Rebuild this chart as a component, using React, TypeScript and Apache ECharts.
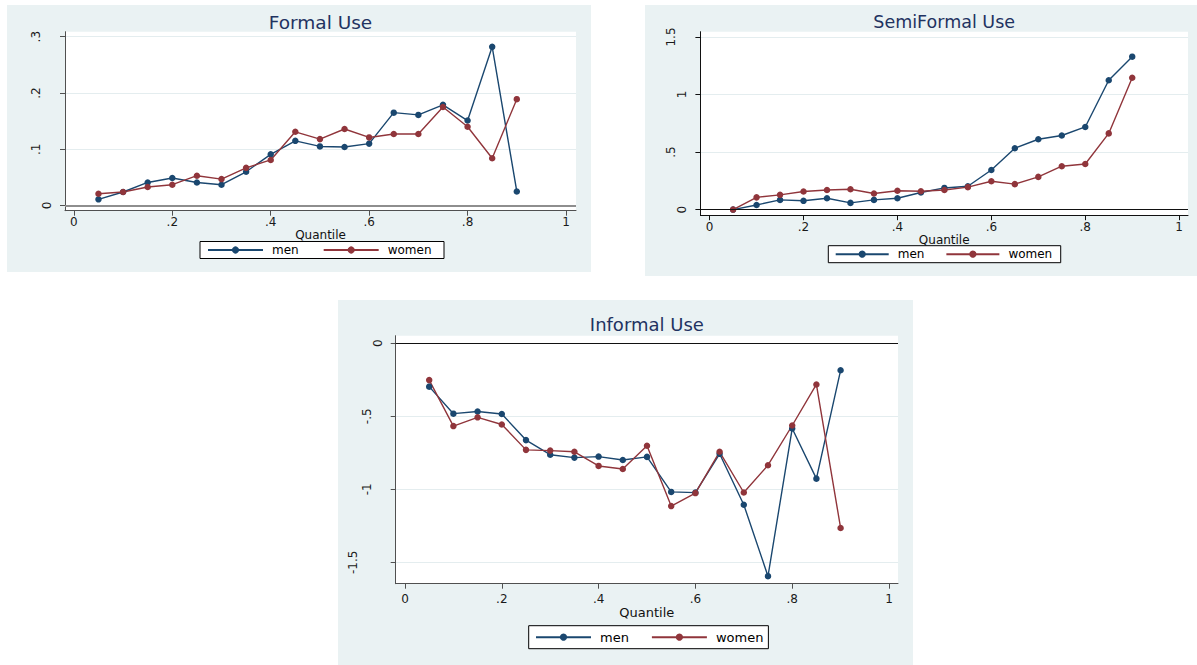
import React, { useEffect, useRef } from "react";
import * as echarts from "echarts";

// ---------- data ----------
const quantiles = [0.05, 0.1, 0.15, 0.2, 0.25, 0.3, 0.35, 0.4, 0.45, 0.5, 0.55, 0.6, 0.65, 0.7, 0.75, 0.8, 0.85, 0.9];

const formalMen = [0.011, 0.024, 0.041, 0.049, 0.041, 0.037, 0.060, 0.091, 0.115, 0.105, 0.104, 0.110, 0.165, 0.161, 0.179, 0.151, 0.282, 0.025];
const formalWomen = [0.021, 0.024, 0.033, 0.037, 0.053, 0.047, 0.067, 0.081, 0.131, 0.118, 0.136, 0.121, 0.127, 0.127, 0.175, 0.140, 0.084, 0.189];

const semiMen = [0.0, 0.040, 0.084, 0.076, 0.098, 0.058, 0.084, 0.098, 0.148, 0.188, 0.203, 0.344, 0.533, 0.611, 0.644, 0.718, 1.124, 1.329];
const semiWomen = [0.0, 0.106, 0.128, 0.157, 0.170, 0.177, 0.140, 0.164, 0.159, 0.170, 0.195, 0.246, 0.221, 0.284, 0.377, 0.396, 0.662, 1.146];

const informalMen = [-0.297, -0.482, -0.467, -0.484, -0.663, -0.763, -0.783, -0.776, -0.799, -0.778, -1.018, -1.023, -0.757, -1.106, -1.595, -0.584, -0.927, -0.185];
const informalWomen = [-0.252, -0.567, -0.507, -0.556, -0.730, -0.735, -0.743, -0.840, -0.861, -0.702, -1.115, -1.026, -0.743, -1.022, -0.835, -0.563, -0.282, -1.265];

const xTicks = [0, 0.2, 0.4, 0.6, 0.8, 1];
const formalTicks = [0, 0.1, 0.2, 0.3];
const semiTicks = [0, 0.5, 1, 1.5];
const informalTicks = [-1.5, -1, -0.5, 0];

const seriesNames = ["men", "women"];
const panelTitles = ["Formal Use", "SemiFormal Use", "Informal Use"];
const xTitle = "Quantile";

// ---------- style ----------
const MEN = "#1A476F";
const WOMEN = "#90353B";
const BG = "#EAF2F3";
const GRIDLINE = "#E4EDEF";
const TITLE = "#1F3361";
const FONT = "DejaVu Sans";

function fmt(v: number): string {
  const s = String(Math.round(v * 1000) / 1000);
  return s.replace(/^(-?)0\./, "$1.");
}

const panels = [
  {
    title: panelTitles[0], men: formalMen, women: formalWomen, yTicks: formalTicks,
    bg: { x: 7, y: 5, w: 584, h: 267 },
    grid: { left: 65, top: 31.7, width: 511, height: 179 },
    xRange: [-0.018, 1.0203], yRange: [-0.0092, 0.3089],
    titleY: 22.5, titleSize: 18.5,
    axisColor: "#505050", zeroColor: "#8E8E8E", zeroWidth: 2,
    legend: { left: 200, top: 241.5, padding: [2.5, 12.5, 2.5, 7], itemGap: 24, itemWidth: 55, fontSize: 12 },
    xLabelMargin: 5, nameGap: 15, nameSize: 12,
  },
  {
    title: panelTitles[1], men: semiMen, women: semiWomen, yTicks: semiTicks,
    bg: { x: 645, y: 5, w: 552, h: 271 },
    grid: { left: 700.4, top: 31.7, width: 487.6, height: 183.5 },
    xRange: [-0.0196, 1.0188], yRange: [-0.049, 1.546],
    titleY: 22.3, titleSize: 17.5,
    axisColor: "#111111", zeroColor: "#111111", zeroWidth: 1,
    legend: { left: 828.3, top: 245.7, padding: [2.5, 8.5, 2.5, 6.4], itemGap: 21, itemWidth: 53, fontSize: 12 },
    xLabelMargin: 6, nameGap: 14.5, nameSize: 12,
  },
  {
    title: panelTitles[2], men: informalMen, women: informalWomen, yTicks: informalTicks,
    bg: { x: 338, y: 300, w: 575, h: 365 },
    grid: { left: 395.7, top: 335.7, width: 502.3, height: 248 },
    xRange: [-0.0192, 1.0186], yRange: [-1.6466, 0.052],
    titleY: 324, titleSize: 18,
    axisColor: "#505050", zeroColor: "#111111", zeroWidth: 1,
    legend: { left: 528.7, top: 625.7, padding: [5, 5, 5, 6.3], itemGap: 22, itemWidth: 55, fontSize: 13 },
    xLabelMargin: 9, nameGap: 20.5, nameSize: 13,
  },
];

function buildOption() {
  const grid: any[] = [];
  const xAxis: any[] = [];
  const yAxis: any[] = [];
  const series: any[] = [];
  const legend: any[] = [];
  const graphic: any[] = [];

  panels.forEach((p, i) => {
    graphic.push({
      type: "rect", z: -10, silent: true,
      shape: { x: p.bg.x, y: p.bg.y, width: p.bg.w, height: p.bg.h },
      style: { fill: BG },
    });
    graphic.push({
      type: "text", z: 10, silent: true,
      x: p.grid.left + p.grid.width / 2, y: p.titleY,
      style: {
        text: p.title, fontFamily: FONT, fontSize: p.titleSize, fill: TITLE,
        align: "center", verticalAlign: "middle",
      },
    });

    grid.push({
      left: p.grid.left, top: p.grid.top, width: p.grid.width, height: p.grid.height,
      show: true, backgroundColor: "#ffffff", borderWidth: 0,
      outerBoundsMode: "none", containLabel: false,
    });

    xAxis.push({
      type: "value", gridIndex: i, min: p.xRange[0], max: p.xRange[1],
      position: "bottom",
      name: xTitle, nameLocation: "middle", nameGap: p.nameGap,
      nameTextStyle: { fontFamily: FONT, fontSize: p.nameSize, color: "#111" },
      axisLine: { show: true, onZero: false, lineStyle: { color: p.axisColor, width: 1 } },
      axisTick: { show: true, length: 5, inside: false, customValues: xTicks, lineStyle: { color: p.axisColor, width: 1 } },
      axisLabel: {
        show: true, margin: p.xLabelMargin, customValues: xTicks,
        fontFamily: FONT, fontSize: 12, color: "#1a1a1a",
        formatter: (v: number) => fmt(v),
      },
      splitLine: { show: false },
    });

    const lab = { fontFamily: FONT, fontSize: 12, color: "#1a1a1a" };
    yAxis.push({
      type: "value", gridIndex: i, min: p.yRange[0], max: p.yRange[1],
      position: "left",
      axisLine: { show: true, onZero: false, lineStyle: { color: p.axisColor, width: 1 } },
      axisTick: { show: true, length: 5, inside: false, customValues: p.yTicks, lineStyle: { color: p.axisColor, width: 1 } },
      axisLabel: {
        show: true, rotate: 90, margin: 12, customValues: p.yTicks,
        ...lab,
        formatter: (v: number) => {
          const s = fmt(v);
          const k = s.length >= 4 ? "c" : s.length >= 2 ? "b" : "a";
          return `{${k}|${s}}`;
        },
        rich: {
          a: { ...lab, padding: [0, 0, 0, 0] },
          b: { ...lab, padding: [0, 0, 11, 0] },
          c: { ...lab, padding: [0, 0, 25, 0] },
        },
      },
      splitLine: { show: true, lineStyle: { color: GRIDLINE, width: 1 } },
    });

    const mk = (name: string, vals: number[], color: string, withZero: boolean) => ({
      type: "line", name, xAxisIndex: i, yAxisIndex: i,
      data: quantiles.map((q, k) => [q, vals[k]]),
      symbol: "circle", symbolSize: 6.5, showSymbol: true,
      lineStyle: { color, width: 1.4 },
      itemStyle: { color },
      silent: true,
      markLine: withZero
        ? {
            silent: true, symbol: ["none", "none"], label: { show: false },
            lineStyle: { color: p.zeroColor, width: p.zeroWidth, type: "solid" },
            data: [{ yAxis: 0 }],
          }
        : undefined,
    });
    series.push(mk(seriesNames[0], p.men, MEN, true));
    series.push(mk(seriesNames[1], p.women, WOMEN, false));

    legend.push({
      data: seriesNames, left: p.legend.left, top: p.legend.top, orient: "horizontal",
      padding: p.legend.padding, itemGap: p.legend.itemGap,
      itemWidth: p.legend.itemWidth, itemHeight: 9,
      backgroundColor: "#ffffff", borderColor: "#000000", borderWidth: 1, borderRadius: 0,
      selectedMode: false,
      textStyle: { fontFamily: FONT, fontSize: p.legend.fontSize, color: "#000", padding: [0, 0, 0, 4] },
    });
  });

  return {
    animation: false,
    backgroundColor: "#ffffff",
    grid, xAxis, yAxis, series, legend, graphic,
  };
}

export default function App() {
  const ref = useRef<HTMLDivElement>(null);
  useEffect(() => {
    if (!ref.current) return;
    const chart = echarts.init(ref.current, null, { renderer: "svg" });
    chart.setOption(buildOption() as any);
    return () => chart.dispose();
  }, []);
  return (
    <div
      ref={ref}
      style={{ position: "absolute", left: 0, top: 0, width: 1197, height: 665 }}
    />
  );
}
